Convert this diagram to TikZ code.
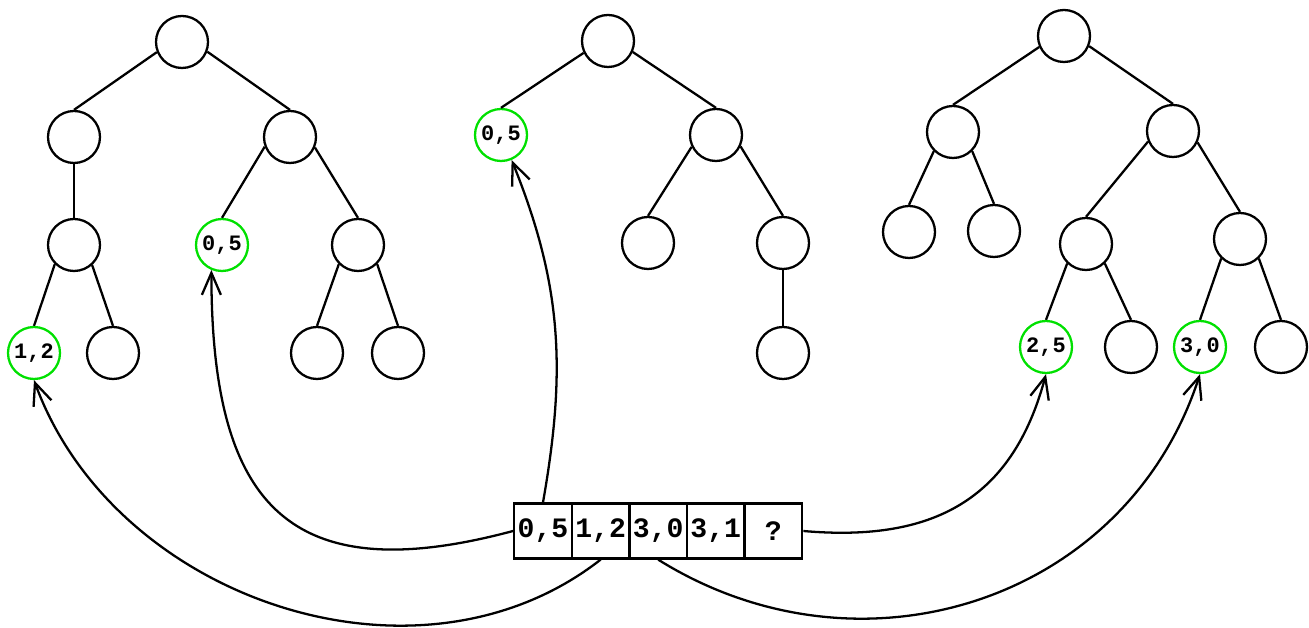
\documentclass[tikz,border=0pt]{standalone}
\usepackage{fontspec}
\setmonofont{Liberation Mono}
\usepackage{tikz}
\usetikzlibrary{arrows.meta,positioning}
\definecolor{ink}{HTML}{000000}
\definecolor{hitgreen}{HTML}{00E000}
\tikzset{
  vtx/.style={circle,draw=ink,line width=1.3pt,minimum size=1.04cm,inner sep=0pt,
    font=\fontsize{12.5}{12.5}\selectfont\ttfamily\bfseries},
  hit/.style={vtx,draw=hitgreen},
  cell/.style={rectangle,draw=ink,line width=1.3pt,minimum width=1.152cm,minimum height=1.1cm,
    inner sep=0pt,font=\fontsize{16}{16}\selectfont\ttfamily\bfseries},
  edge/.style={ink,line width=1.3pt},
  link/.style={ink,line width=1.3pt,-{Straight Barb[length=4.4mm,width=3.8mm]}}
}
\begin{document}
\begin{tikzpicture}[x=0.2mm,y=0.2mm]
  \useasboundingbox (0,0) rectangle (1309,627);
  \node[vtx] (t1) at (182,585) {};
  \node[vtx] (t1l) at (74,490) {};
  \node[vtx] (t1r) at (290,490) {};
  \node[vtx] (t1ll) at (74,382) {};
  \node[hit] (t1rl) at (222,382) {0,5};
  \node[vtx] (t1rr) at (358,382) {};
  \node[hit] (t1lll) at (34,274) {1,2};
  \node[vtx] (t1llr) at (113,274) {};
  \node[vtx] (t1rrl) at (317,274) {};
  \node[vtx] (t1rrr) at (398,274) {};

  \node[vtx] (t2) at (608,586) {};
  \node[hit] (t2l) at (501,492) {0,5};
  \node[vtx] (t2r) at (716,492) {};
  \node[vtx] (t2rl) at (648,384) {};
  \node[vtx] (t2rr) at (783,384) {};
  \node[vtx] (t2rrl) at (783,274) {};

  \node[vtx] (t3) at (1064,591) {};
  \node[vtx] (t3l) at (953,495) {};
  \node[vtx] (t3r) at (1173,496) {};
  \node[vtx] (t3ll) at (909,395) {};
  \node[vtx] (t3lr) at (994,396) {};
  \node[vtx] (t3rl) at (1086,383) {};
  \node[vtx] (t3rr) at (1240,388) {};
  \node[hit] (t3rll) at (1046,280) {2,5};
  \node[vtx] (t3rlr) at (1131,280) {};
  \node[hit] (t3rrl) at (1200,280) {3,0};
  \node[vtx] (t3rrr) at (1281,280) {};

  \foreach \p/\c/\a in {t1/t1l/202,t1/t1r/-21,t1l/t1ll/270,t1r/t1rl/201,t1r/t1rr/-23,
    t1ll/t1lll/225,t1ll/t1llr/-48,t1rr/t1rrl/225,t1rr/t1rrr/-45,
    t2/t2l/206,t2/t2r/-24,t2r/t2rl/206,t2r/t2rr/-25,t2rr/t2rrl/270,
    t3/t3l/204,t3/t3r/-22,t3l/t3ll/225,t3l/t3lr/-45,t3r/t3rl/203,t3r/t3rr/-25,
    t3rl/t3rll/226,t3rl/t3rlr/-46,t3rr/t3rrl/226,t3rr/t3rrr/-46}
    \draw[edge] (\p.\a) -- (\c.north);

  \foreach \v [count=\i from 0] in {{0,5},{1,2},{3,0},{3,1},{?}}
    \node[cell] (c\i) at (543+57.6*\i,96) {\v};

  \draw[link] (c0.north) to[out=80,in=-68] (t2l.-67);
  \draw[link] (c0.west) to[out=195,in=-90,looseness=1.5] (t1rl.-113);
  \draw[link] (c1.south) to[out=218,in=-70] (t1lll.south);
  \draw[link] (c2.south) to[out=-32,in=-108,looseness=1.07] (t3rrl.south);
  \draw[link] (c4.east) to[out=-5,in=-105,looseness=1.15] (t3rll.south);
\end{tikzpicture}
\end{document}
